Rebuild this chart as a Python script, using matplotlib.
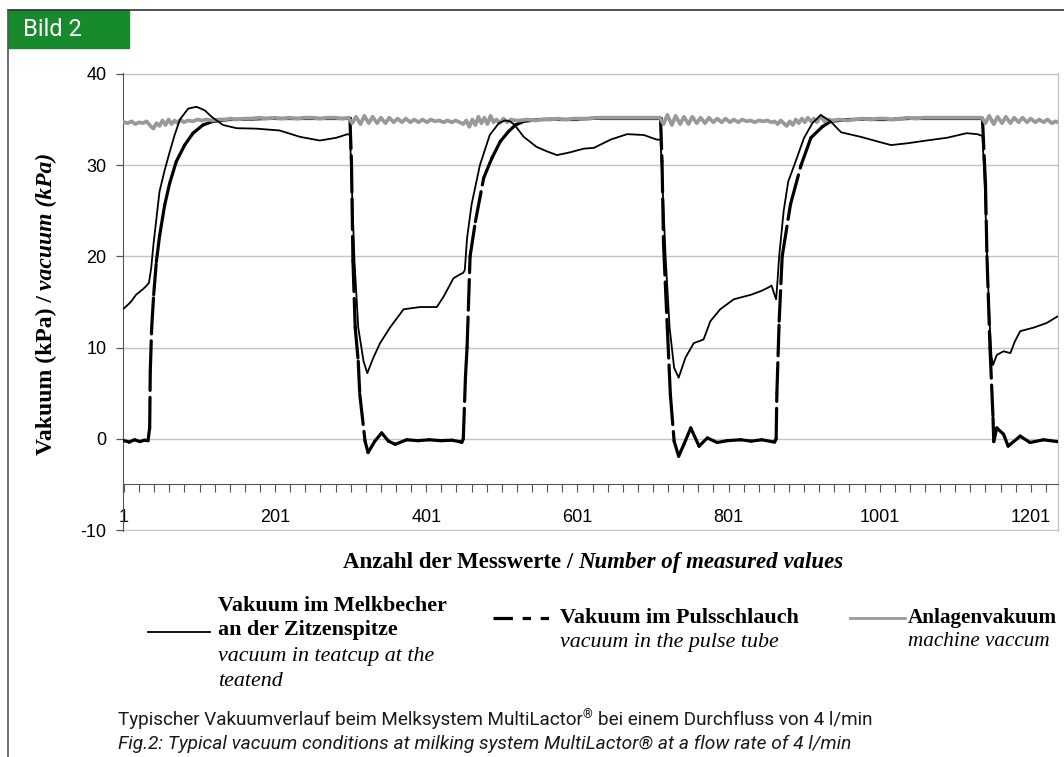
import matplotlib
matplotlib.use("Agg")
import matplotlib.pyplot as plt
from matplotlib import font_manager
from matplotlib.collections import LineCollection
from matplotlib.lines import Line2D
from matplotlib.patches import Rectangle


W, H = 1064, 757

# teatcup vacuum (thin line), sample index -> kPa
teat_x = [1, 10, 17, 26, 31, 34, 37, 40, 44, 48, 55, 61, 68, 75, 86, 97, 108, 117, 132, 150,
          176, 207, 234, 260, 282, 297, 300, 302, 306, 311, 318, 323, 331, 340, 353, 371, 393, 415,
          424, 437, 445, 450, 452, 455, 461, 472, 485, 497, 505, 512, 518, 530, 547, 561, 574, 591,
          609, 623, 645, 667, 689, 706, 711, 713, 718, 723, 729, 735, 744, 755, 762, 768, 777, 790,
          808, 831, 844, 854, 858, 861, 864, 866, 868, 874, 880, 888, 901, 912, 923, 936, 950, 976,
          998, 1016, 1038, 1063, 1090, 1116, 1130, 1137, 1140, 1143, 1147, 1149, 1151, 1156, 1165,
          1174, 1180, 1187, 1205, 1222, 1236]
teat_y = [14.3, 15.0, 15.8, 16.4, 16.8, 17.1, 18.7, 21.3, 24.2, 27.1, 29.5, 31.3, 33.3, 35.0, 36.2,
          36.4, 36.0, 35.3, 34.4, 34.05, 34.0, 33.8, 33.1, 32.7, 33.0, 33.4, 33.3, 29.0, 19.5, 12.2,
          8.5, 7.2, 8.9, 10.5, 12.2, 14.2, 14.45, 14.45, 15.6, 17.6, 18.0, 18.2, 18.5, 22.0, 25.7,
          30.0, 33.3, 34.6, 34.9, 34.8, 34.4, 33.1, 32.0, 31.5, 31.1, 31.4, 31.8, 31.9, 32.8, 33.4,
          33.3, 32.8, 32.8, 29.0, 19.5, 12.2, 7.8, 6.7, 8.9, 10.5, 10.7, 10.9, 12.9, 14.2, 15.3,
          15.8, 16.2, 16.6, 16.8, 16.0, 15.3, 17.5, 20.0, 25.0, 28.2, 30.0, 33.0, 34.6, 35.5, 34.8,
          33.6, 33.1, 32.6, 32.2, 32.4, 32.7, 33.0, 33.5, 33.4, 33.2, 28.0, 20.0, 12.0, 9.0, 8.1,
          9.2, 9.6, 9.4, 10.7, 11.8, 12.2, 12.7, 13.4]

# pulse tube vacuum (thick dashed line)
pulse_x = [1, 8, 15, 22, 28, 32.8, 35, 35.8, 37.6, 40.3, 43.8, 48.2, 54.8, 61.4, 70.2, 81.3, 92.3,
           105.5, 118.8, 140, 170, 200, 230, 260, 290, 300, 302, 304, 307, 311, 313, 320, 324, 333,
           342, 351, 360, 375, 390, 405, 420, 435, 445, 448, 450, 453, 455, 459, 466, 477, 488, 499,
           510, 519, 530, 550, 575, 600, 630, 660, 690, 711, 713, 715, 720, 724, 729, 735, 742, 751,
           762, 773, 786, 799, 817, 831, 845, 858, 862, 864, 865, 868, 872, 883, 897, 910, 925, 936,
           960, 990, 1020, 1050, 1080, 1110, 1137, 1141, 1143, 1147, 1151, 1152, 1156, 1165, 1171,
           1187, 1200, 1218, 1236]
pulse_y = [-0.2, -0.35, -0.1, -0.3, -0.15, -0.2, 1.2, 7.4, 12.1, 15.8, 19.4, 22.3, 25.6, 28.0, 30.4,
           32.2, 33.5, 34.4, 34.8, 35.0, 35.05, 35.15, 35.15, 35.15, 35.15, 35.15, 30.4, 19.5, 12.2,
           8.5, 4.9, -0.25, -1.5, -0.25, 0.65, -0.25, -0.6, -0.1, -0.2, -0.1, -0.2, -0.15, -0.3,
           -0.4, 0.0, 7.0, 10.0, 20.0, 23.8, 28.6, 30.8, 32.6, 33.7, 34.4, 34.8, 35.0, 35.05, 35.05,
           35.15, 35.15, 35.15, 35.15, 30.4, 21.3, 12.2, 4.9, -0.25, -1.9, -0.6, 1.2, -0.8, 0.1,
           -0.4, -0.2, -0.1, -0.25, -0.1, -0.3, -0.35, 0.0, 5.0, 12.9, 20.0, 25.7, 30.0, 33.0, 34.2,
           34.8, 35.0, 35.05, 35.05, 35.15, 35.15, 35.15, 35.15, 28.0, 20.0, 10.0, 2.3, -0.3, 1.2,
           0.5, -0.8, 0.3, -0.4, -0.1, -0.3]

# machine vacuum (grey line)
machine_x = [1, 6, 11, 16, 21, 26, 31, 36, 40, 44, 48, 52, 56, 60, 64, 68, 72, 76, 80,
             86, 92, 98, 104, 110, 118, 126, 134, 142, 150, 160, 170, 180, 190, 200, 210, 220, 230,
             240, 250, 260, 270, 280, 290, 298,
             303, 308, 314, 319, 325, 330, 336, 341, 347, 352, 358, 363, 369, 374, 380, 385, 391,
             396, 402, 407, 413, 418, 424, 429, 435, 440,
             445, 450, 454, 458, 462, 466, 470, 474, 478, 482, 486, 490, 494, 498, 503, 508, 513, 518,
             525, 535, 545, 555, 565, 575, 585, 595, 605, 615, 625, 635, 645, 655, 665, 675, 685, 695,
             705, 710,
             715, 720, 726, 731, 737, 742, 748, 753, 759, 764, 770, 775, 781, 786, 792, 797, 803, 808,
             814, 819, 825, 830, 836, 841, 847, 852, 858,
             862, 866, 870, 874, 878, 882, 886, 890, 894, 898, 902, 906, 910, 914, 918, 923, 928, 933,
             938,
             948, 958, 968, 978, 988, 998, 1008, 1018, 1028, 1038, 1048, 1058, 1068, 1078, 1088, 1098,
             1108, 1118, 1128, 1136,
             1141, 1146, 1152, 1157, 1163, 1168, 1174, 1179, 1185, 1190, 1196, 1201, 1207, 1212, 1218,
             1223, 1229, 1234, 1237]
machine_y = [34.7, 34.6, 34.8, 34.5, 34.7, 34.6, 34.8, 34.3, 34.0, 34.6, 34.3, 34.9, 34.4, 35.0,
             34.5, 34.9, 34.6, 35.0, 34.7,
             34.9, 34.8, 35.0, 34.9, 35.0, 34.9, 35.0, 35.0, 35.1, 35.0, 35.1, 35.1, 35.2, 35.1, 35.2,
             35.1, 35.2, 35.1, 35.2, 35.2, 35.1, 35.2, 35.2, 35.1, 35.2,
             34.6, 35.3, 34.5, 35.4, 34.6, 35.3, 34.6, 35.2, 34.6, 35.2, 34.7, 35.1, 34.7, 35.1, 34.7,
             35.0, 34.7, 35.0, 34.7, 35.0, 34.8, 34.9, 34.7, 34.9, 34.7, 34.9,
             34.7, 34.5, 34.9, 34.2, 35.0, 34.4, 35.3, 34.6, 35.2, 34.5, 35.4, 34.7, 35.0, 34.6, 35.1,
             34.7, 35.0, 34.9,
             34.9, 35.0, 34.9, 35.0, 35.0, 35.1, 35.0, 35.1, 35.1, 35.1, 35.2, 35.2, 35.2, 35.2, 35.2,
             35.2, 35.2, 35.2, 35.2, 35.2,
             34.5, 35.5, 34.4, 35.4, 34.5, 35.3, 34.5, 35.3, 34.6, 35.2, 34.6, 35.2, 34.7, 35.1, 34.7,
             35.1, 34.7, 35.0, 34.7, 35.0, 34.8, 34.9, 34.7, 34.9, 34.8, 34.9, 34.7,
             34.8, 34.5, 34.9, 34.6, 34.3, 34.8, 34.4, 35.0, 34.6, 35.1, 34.7, 35.2, 34.8, 35.1, 34.7,
             35.4, 34.8, 35.0, 34.9,
             35.0, 34.9, 35.0, 35.1, 35.0, 35.1, 35.1, 35.0, 35.1, 35.2, 35.1, 35.2, 35.2, 35.2, 35.2,
             35.2, 35.2, 35.2, 35.2, 35.2,
             34.6, 35.4, 34.5, 35.3, 34.6, 35.3, 34.6, 35.2, 34.7, 35.2, 34.7, 35.1, 34.7, 35.0, 34.7,
             35.0, 34.6, 34.8, 34.7]

y_ticks = [40, 30, 20, 10, 0, -10]
x_ticks = [1, 201, 401, 601, 801, 1001, 1201]

GREY = "#999999"
GREEN = "#178a2d"

names = {f.name for f in font_manager.fontManager.ttflist}
NARROW = "Liberation Sans Narrow" if "Liberation Sans Narrow" in names else "Roboto"
SERIF = "Liberation Serif"

plt.rcParams["axes.unicode_minus"] = False
plt.rcParams["lines.scale_dashes"] = False


def fx(px):
    return px / W


def fy(py):
    return 1 - py / H


def text_run(fig, x_px, y_px, pieces, rotation=0):
    # draws consecutive text pieces, each dict may hold a gap (px) and dy (px)
    renderer = fig.canvas.get_renderer()
    for s, kw in pieces:
        kw = dict(kw)
        gap = kw.pop("gap", 0)
        dy = kw.pop("dy", 0)
        if rotation == 0:
            x_px += gap
            t = fig.text(fx(x_px), fy(y_px - dy), s, ha="left", va="baseline", **kw)
            x_px += t.get_window_extent(renderer).width
        else:
            y_px -= gap
            t = fig.text(fx(x_px), fy(y_px), s, ha="left", va="baseline", rotation=90,
                         rotation_mode="anchor", **kw)
            y_px -= t.get_window_extent(renderer).height


fig = plt.figure(figsize=(W / 100, H / 100), dpi=100)

ax = fig.add_axes([fx(123), fy(531), (1058 - 123) / W, (531 - 73) / H])
ax.set_xlim(-0.3, 1237)
ax.set_ylim(-10.1, 40.1)

segs = [[(pulse_x[i], pulse_y[i]), (pulse_x[i + 1], pulse_y[i + 1])] for i in range(len(pulse_x) - 1)]
pulse = LineCollection(segs, colors="black", linewidths=2.3, linestyles=[(0, (22, 5))],
                       capstyle="round", zorder=3)
ax.add_collection(pulse)
ax.plot(machine_x, machine_y, color=GREY, lw=2.7, zorder=4)
ax.plot(teat_x, teat_y, color="black", lw=1.3, zorder=5)

ax.set_yticks(y_ticks)
ax.set_yticklabels([str(v) for v in y_ticks])
ax.set_xticks(range(21, 1237, 20), minor=True)
ax.set_xticks(x_ticks)
ax.set_xticklabels([str(v) for v in x_ticks])
ax.tick_params(axis="y", length=5, width=0.9, color="#555555", pad=7,
               labelsize=13, labelfontfamily="Liberation Sans")
ax.tick_params(axis="x", which="both", length=6, width=0.8, color="#555555", pad=12)
ax.tick_params(axis="x", which="major", labelsize=13, labelfontfamily="Liberation Sans")

ax.yaxis.grid(True, color="#c4c4c4", lw=1.0)
ax.set_axisbelow(True)
ax.spines["top"].set_visible(False)
ax.spines["right"].set_color("#bdbdbd")
ax.spines["left"].set_color("#555555")
ax.spines["bottom"].set_position(("data", -5))
ax.spines["bottom"].set_color("#555555")

# outer frame and figure tag
fig.add_artist(Line2D([fx(8), 1], [fy(10), fy(10)], color="#333333", lw=1.2))
fig.add_artist(Line2D([fx(8), fx(8)], [fy(10), 0], color="#555555", lw=1.2))
fig.add_artist(Rectangle((fx(8), fy(48)), 121 / W, 38 / H, color=GREEN, transform=fig.transFigure))
fig.text(fx(23), fy(30), "Bild 2", color="white", fontsize=17, family="Roboto", va="center")

bold = {"family": SERIF, "weight": "bold", "fontsize": 16.5}
bold_it = {"family": SERIF, "weight": "bold", "style": "italic", "fontsize": 16.5}
text_run(fig, 343, 568, [("Anzahl der Messwerte /", bold),
                         ("Number of measured values", dict(bold_it, gap=5))])
ybold = dict(bold, fontsize=17)
ybold_it = dict(bold_it, fontsize=17)
text_run(fig, 52, 455, [("Vakuum (kPa) /", ybold),
                        ("vacuum (kPa)", dict(ybold_it, gap=5))], rotation=90)

# legend, laid out by hand like the original
leg_b = {"family": SERIF, "weight": "bold", "fontsize": 15.8, "va": "center"}
leg_i = {"family": SERIF, "style": "italic", "fontsize": 15.8, "va": "center"}
fig.add_artist(Line2D([fx(148), fx(210)], [fy(632), fy(632)], color="black", lw=1.3))
fig.text(fx(218), fy(606), "Vakuum im Melkbecher", **leg_b)
fig.text(fx(218), fy(630), "an der Zitzenspitze", **leg_b)
fig.text(fx(218), fy(656), "vacuum in teatcup at the", **leg_i)
fig.text(fx(218), fy(681), "teatend", **leg_i)

fig.add_artist(Line2D([fx(493), fx(551)], [fy(618), fy(618)], color="black", lw=2.3,
                      dashes=[14, 7, 6, 7, 6, 20]))
fig.text(fx(560), fy(618), "Vakuum im Pulsschlauch", **leg_b)
fig.text(fx(560), fy(642), "vacuum in the pulse tube", **leg_i)

fig.add_artist(Line2D([fx(850), fx(905)], [fy(618), fy(618)], color=GREY, lw=2.0))
fig.text(fx(908), fy(618), "Anlagenvakuum", **dict(leg_b, fontsize=15.2))
fig.text(fx(908), fy(642), "machine vaccum", **dict(leg_i, fontsize=15.2))

cap = {"family": NARROW, "fontsize": 13.6, "color": "#1a1a1a"}
text_run(fig, 118, 725, [("Typischer Vakuumverlauf beim Melksystem MultiLactor", cap),
                         ("®", dict(cap, fontsize=9, dy=7)),
                         ("bei einem Durchfluss von 4 l/min", dict(cap, gap=5))])
fig.text(fx(118), fy(749), "Fig.2: Typical vacuum conditions at milking system MultiLactor® at a flow rate of 4 l/min",
         ha="left", va="baseline", style="italic", **dict(cap, fontsize=13.8))

fig.savefig("out.png", dpi=100)
